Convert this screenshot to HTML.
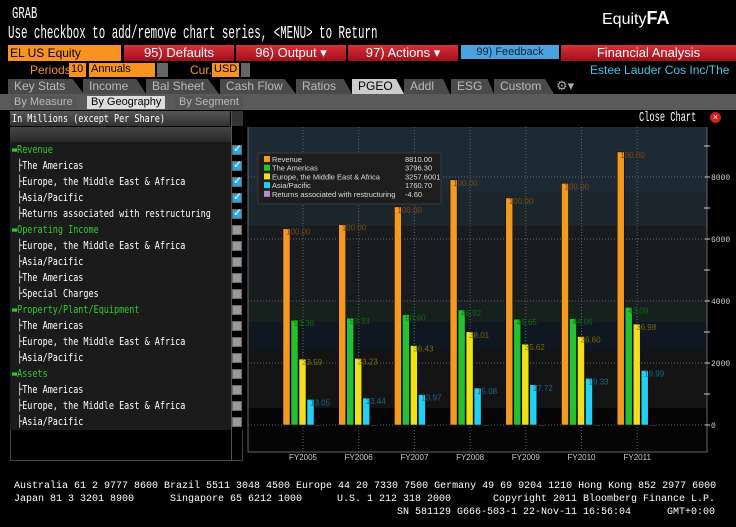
<!DOCTYPE html>
<html><head><meta charset="utf-8">
<style>
*{margin:0;padding:0;box-sizing:border-box}
body{width:736px;height:527px;background:#000;position:relative;overflow:hidden;font-family:"Liberation Sans",sans-serif;color:#fff}
.a{position:absolute;white-space:nowrap}
.mono{font-family:"Liberation Mono",monospace}
.nar{transform-origin:0 0;white-space:pre}
.ft{position:absolute;font-family:"Liberation Mono",monospace;font-size:10px;white-space:pre;color:#fff}
.tb{position:absolute;top:45px;height:16px;background:linear-gradient(#d8303a,#a0101a);color:#fff;font-size:13px;line-height:16px;text-align:center}
.tab{position:absolute;top:79px;height:15px;background:#4a4a4a;color:#bbb;font-size:12px;line-height:15px;padding-left:6px;clip-path:polygon(0 0,85% 0,100% 100%,0 100%)}
.st{position:absolute;top:96px;height:13px;background:#555;color:#bbb;font-size:11px;line-height:13px;padding:0 4px}
.row{position:absolute;left:12px;font-size:11px;line-height:14px;color:#fff;font-family:"DejaVu Sans Mono","Liberation Mono",monospace;transform:scaleX(0.77);transform-origin:0 0;white-space:pre}
.g{color:#2ecc2e}
.cb{position:absolute;left:232px;width:10px;height:10px;background:#999;border:1px solid #666}
.cb.on{background:#2aa7e0}
</style></head><body>
<div class="a mono nar" style="left:12px;top:5px;font-size:17px;transform:scaleX(0.62)">GRAB</div>
<div class="a" style="left:602px;top:8px;font-size:16px">Equity<b style="font-size:18px">FA</b></div>
<div class="a mono nar" style="left:8px;top:24px;font-size:18px;transform:scaleX(0.6)">Use checkbox to add/remove chart series, &lt;MENU&gt; to Return</div>
<div class="a" style="left:8px;top:45px;width:113px;height:16px;background:#f7931e;color:#000;font-size:12px;line-height:16px;padding-left:2px">EL US Equity</div>
<div class="tb" style="left:124px;width:110px">95) Defaults</div>
<div class="tb" style="left:236px;width:110px">96) Output ▾</div>
<div class="tb" style="left:348px;width:110px">97) Actions ▾</div>
<div class="a" style="left:461px;top:45px;width:98px;height:14px;background:#4aa3e0;color:#123;font-size:11px;line-height:14px;text-align:center">99) Feedback</div>
<div class="tb" style="left:561px;width:175px">Financial Analysis</div>
<div class="a" style="left:30px;top:63px;font-size:12px;color:#f7931e">Periods</div>
<div class="a" style="left:69px;top:63px;width:17px;height:14px;background:#f7931e;color:#000;font-size:11px;padding-left:2px">10</div>
<div class="a" style="left:89px;top:63px;width:66px;height:14px;background:#f7931e;color:#000;font-size:11px;padding-left:2px">Annuals</div>
<div class="a" style="left:157px;top:63px;width:11px;height:14px;background:#666"></div>
<div class="a" style="left:190px;top:63px;font-size:12px;color:#f7931e">Cur.</div>
<div class="a" style="left:212px;top:63px;width:27px;height:14px;background:#f7931e;color:#000;font-size:11px;padding-left:2px">USD</div>
<div class="a" style="left:241px;top:63px;width:9px;height:14px;background:#666"></div>
<div class="a" style="left:590px;top:63px;font-size:12px;color:#3cc8e8">Estee Lauder Cos Inc/The</div>
<div class="tab" style="left:8px;width:76px">Key Stats</div>
<div class="tab" style="left:83px;width:63px">Income</div>
<div class="tab" style="left:146px;width:73px">Bal Sheet</div>
<div class="tab" style="left:220px;width:76px">Cash Flow</div>
<div class="tab" style="left:296px;width:56px">Ratios</div>
<div class="tab" style="left:352px;width:52px;background:#ccc;color:#000">PGEO</div>
<div class="tab" style="left:404px;width:46px">Addl</div>
<div class="tab" style="left:451px;width:43px">ESG</div>
<div class="tab" style="left:494px;width:60px">Custom</div>
<div class="a" style="left:556px;top:78px;font-size:13px;color:#aaa">⚙▾</div>
<div class="a" style="left:0;top:94px;width:736px;height:16px;background:#5a5a5a"></div>
<div class="st" style="left:10px">By Measure</div>
<div class="st" style="left:87px;background:#ddd;color:#000">By Geography</div>
<div class="st" style="left:175px">By Segment</div>
<div class="a" style="left:10px;top:111px;width:220px;height:15px;background:linear-gradient(#555,#333);overflow:hidden"><div class="row" style="left:2px;top:0;line-height:15px">In Millions (except Per Share)</div></div>
<div class="a" style="left:232px;top:111px;width:11px;height:15px;background:#333"></div>
<div class="a" style="left:10px;top:127px;width:221px;height:15px;background:linear-gradient(#444,#2a2a2a)"></div>
<div class="a" style="left:10px;top:142px;width:221px;height:288px;background:#1b1b1b"></div>
<div class="a" style="left:10px;top:430px;width:233px;height:31px;border:1px solid #444;border-top:none"></div>
<div class="a" style="left:231px;top:111px;width:1px;height:350px;background:#555"></div>
<div id="rows"></div>
<div class="a mono nar" style="left:639px;top:110px;font-size:14px;transform:scaleX(0.62)">Close Chart</div>
<div class="a" style="left:710px;top:112px;width:11px;height:11px;border-radius:50%;background:#d02020;color:#fff;font-size:9px;line-height:11px;text-align:center">×</div>
<svg class="a" style="left:0;top:0" width="736" height="527" id="chart"></svg>
<div class="ft" style="left:14px;top:481px">Australia 61 2 9777 8600 Brazil 5511 3048 4500 Europe 44 20 7330 7500 Germany 49 69 9204 1210 Hong Kong 852 2977 6000</div>
<div class="ft" style="left:14px;top:494px">Japan 81 3 3201 8900</div>
<div class="ft" style="left:170px;top:494px">Singapore 65 6212 1000</div>
<div class="ft" style="left:337px;top:494px">U.S. 1 212 318 2000</div>
<div class="ft" style="left:493px;top:494px">Copyright 2011 Bloomberg Finance L.P.</div>
<div class="ft" style="left:397px;top:507px">SN 581129 G666-503-1 22-Nov-11 16:56:04</div>
<div class="ft" style="left:667px;top:507px">GMT+0:00</div>
<script>
const rowItems=[["Revenue",1,1],["The Americas",0,1],["Europe, the Middle East & Africa",0,1],["Asia/Pacific",0,1],["Returns associated with restructuring",0,1],["Operating Income",1,0],["Europe, the Middle East & Africa",0,0],["Asia/Pacific",0,0],["The Americas",0,0],["Special Charges",0,0],["Property/Plant/Equipment",1,0],["The Americas",0,0],["Europe, the Middle East & Africa",0,0],["Asia/Pacific",0,0],["Assets",1,0],["The Americas",0,0],["Europe, the Middle East & Africa",0,0],["Asia/Pacific",0,0]];
const rc=document.getElementById('rows');
rowItems.forEach((r,i)=>{const y=143+i*16;
const d=document.createElement('div');d.className='row'+(r[1]?' g':'');d.style.top=y+'px';
d.textContent=(r[1]?'▬':' ├')+r[0];


rc.appendChild(d);
const c=document.createElement('div');c.className='cb'+(r[2]?' on':'');c.style.top=(y+2)+'px';
if(r[2])c.innerHTML='<span style="position:absolute;left:0;top:-4px;font-size:11px;color:#fff">✓</span>';


rc.appendChild(c);});

const years=["FY2005","FY2006","FY2007","FY2008","FY2009","FY2010","FY2011"];
const revenue=[6336,6464,7038,7911,7324,7796,8810];
const americas=[3381,3447,3561,3712,3417,3435,3796.3];
const emea=[2128,2148,2564,3007,2609,2853,3257.6];
const asia=[827,869,983,1193,1298,1507,1760.7];
const restruct=[0,0,0,0,-8,-11,-4.6];
const yTicks=[0,2000,4000,6000,8000];
const NS='http://www.w3.org/2000/svg',svg=document.getElementById('chart');
const y0=425,pxPer=31/1000;
const Y=v=>y0-v*pxPer;
const X=i=>303+i*55.7;
function el(t,a,p){const e=document.createElementNS(NS,t);for(const k in a)e.setAttribute(k,a[k]);(p||svg).appendChild(e);return e;}
[[127,192,'#1d2a33'],[192,226,'#1b262d'],[226,300,'#181c1f'],[300,322,'#16201c'],[322,350,'#0f1720'],[350,408,'#141414'],[408,452,'#050505']].forEach(b=>{
const r=el('rect',{x:248,y:b[0],width:459,height:b[1]-b[0],fill:b[2]});

});
el('path',{d:'M248 127V452H707V127',stroke:'#666',fill:'none'});
for(let v=0;v<=9000;v+=1000){const y=Y(v);if(y<127)continue;
el('line',{x1:704,x2:710,y1:y,y2:y,stroke:'#ccc'});
if(v%2000==0){el('line',{x1:248,x2:707,y1:y,y2:y,stroke:'#666','stroke-dasharray':'1 2'});}}
yTicks.forEach(v=>{const t=el('text',{x:711,y:Y(v)+3,fill:'#ccc','font-size':8,'font-family':'Liberation Mono'});t.textContent=v;

});
years.forEach((yr,i)=>{
el('line',{x1:X(i),x2:X(i),y1:127,y2:452,stroke:'#666','stroke-dasharray':'1 2'});
const t=el('text',{x:X(i),y:460,fill:'#ccc','font-size':8,'text-anchor':'middle','font-family':'Liberation Sans'});t.textContent=yr;

});
const series=[[revenue,'#f7991e','#7a4a15'],[americas,'#22c32e','#106a18'],[emea,'#f0e01a','#7a6a10'],[asia,'#22d0f5','#1a6a80'],[restruct,'#b090d0','#6a4a8a']];
series.forEach((s,k)=>{s[0].forEach((v,i)=>{
const x=X(i)-20+k*8,y=Math.min(Y(v),y0),h=Math.max(Math.abs(v*pxPer),0.8);
const r=el('rect',{x:x,y:y,width:7,height:h,fill:s[1],stroke:'#000','stroke-width':0.5});


if(k<4){const pct=(v/revenue[i]*100).toFixed(2);
const t=el('text',{x:x+3,y:y+6,fill:s[2],'font-size':8,'font-family':'Liberation Sans'});t.textContent=pct;

}
});});
const lg=el('g',{});


el('rect',{x:258,y:153,width:183,height:51,fill:'#1e1e1e',stroke:'#3a3a3a'},lg);
const names=["Revenue","The Americas","Europe, the Middle East & Africa","Asia/Pacific","Returns associated with restructuring"];
const lastVals=["8810.00","3796.30","3257.6001","1760.70","-4.60"];
names.forEach((n,k)=>{const y=159+k*8.7;
el('rect',{x:264,y:y-3,width:6,height:6,fill:series[k][1]},lg);
const t=el('text',{x:272,y:y+3,fill:'#ddd','font-size':7.5,'font-family':'Liberation Sans'},lg);t.textContent=n;


const v=el('text',{x:405,y:y+3,fill:'#ddd','font-size':7.5,'font-family':'Liberation Sans'},lg);v.textContent=lastVals[k];});
</script>
</body></html>
